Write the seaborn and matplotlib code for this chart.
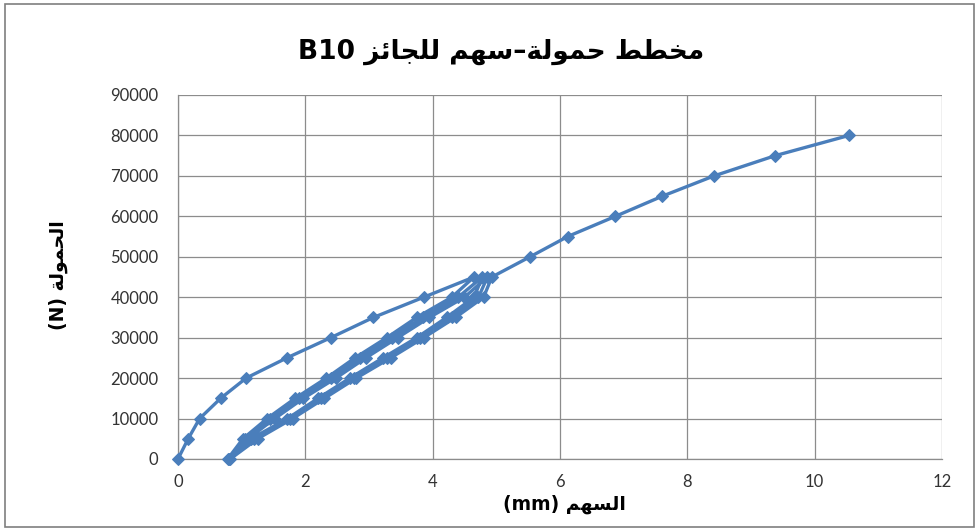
import numpy as np
import pandas as pd
import matplotlib
matplotlib.use("Agg")
import matplotlib.pyplot as plt
import seaborn as sns
from matplotlib.patches import Rectangle

# ---- data (deflection mm, load N) in test order ----
load_initial = [0, 5000, 10000, 15000, 20000, 25000, 30000, 35000, 40000, 45000]
defl_initial = [0, 0.16, 0.34, 0.67, 1.07, 1.71, 2.40, 3.07, 3.86, 4.65]

load_unload1 = [40000, 35000, 30000, 25000, 20000, 15000, 10000, 5000, 0]
defl_unload1 = [4.30, 3.75, 3.28, 2.78, 2.33, 1.84, 1.40, 1.02, 0.78]
load_reload1 = [5000, 10000, 15000, 20000, 25000, 30000, 35000, 40000, 45000]
defl_reload1 = [1.15, 1.72, 2.20, 2.70, 3.22, 3.75, 4.22, 4.65, 4.78]

load_unload2 = [40000, 35000, 30000, 25000, 20000, 15000, 10000, 5000, 0]
defl_unload2 = [4.40, 3.85, 3.36, 2.86, 2.40, 1.90, 1.45, 1.06, 0.80]
load_reload2 = [5000, 10000, 15000, 20000, 25000, 30000, 35000, 40000, 45000]
defl_reload2 = [1.20, 1.76, 2.25, 2.76, 3.28, 3.80, 4.30, 4.72, 4.86]

load_unload3 = [40000, 35000, 30000, 25000, 20000, 15000, 10000, 5000, 0]
defl_unload3 = [4.50, 3.95, 3.45, 2.95, 2.48, 1.97, 1.52, 1.10, 0.82]
load_reload3 = [5000, 10000, 15000, 20000, 25000, 30000, 35000, 40000, 45000]
defl_reload3 = [1.25, 1.80, 2.30, 2.80, 3.34, 3.86, 4.36, 4.80, 4.93]

load_final = [50000, 55000, 60000, 65000, 70000, 75000, 80000]
defl_final = [5.53, 6.12, 6.87, 7.61, 8.42, 9.38, 10.54]

x_ticks = [0, 2, 4, 6, 8, 10, 12]
y_ticks = [0, 10000, 20000, 30000, 40000, 50000, 60000, 70000, 80000, 90000]

title_ar = "مخطط حمولة–سهم للجائز"
title_code = "B10"
xlabel_ar = "السهم"
ylabel_ar = "الحمولة"

# ---- minimal Arabic shaping (visual order for matplotlib) ----
FORMS = {
    'ا': ('\uFE8D', '\uFE8E', None, None),
    'ل': ('\uFEDD', '\uFEDE', '\uFEDF', '\uFEE0'),
    'ح': ('\uFEA1', '\uFEA2', '\uFEA3', '\uFEA4'),
    'م': ('\uFEE1', '\uFEE2', '\uFEE3', '\uFEE4'),
    'و': ('\uFEED', '\uFEEE', None, None),
    'ة': ('\uFE93', '\uFE94', None, None),
    'خ': ('\uFEA5', '\uFEA6', '\uFEA7', '\uFEA8'),
    'ط': ('\uFEC1', '\uFEC2', '\uFEC3', '\uFEC4'),
    'س': ('\uFEB1', '\uFEB2', '\uFEB3', '\uFEB4'),
    'ه': ('\uFEE9', '\uFEEA', '\uFEEB', '\uFEEC'),
    'ج': ('\uFE9D', '\uFE9E', '\uFE9F', '\uFEA0'),
    'ئ': ('\uFE89', '\uFE8A', '\uFE8B', '\uFE8C'),
    'ز': ('\uFEAF', '\uFEB0', None, None),
}


def shape(s):
    out = []
    n = len(s)
    for i, ch in enumerate(s):
        if ch not in FORMS:
            out.append(ch)
            continue
        prev = s[i - 1] if i > 0 else None
        nxt = s[i + 1] if i < n - 1 else None
        join_prev = prev in FORMS and FORMS[prev][2] is not None
        join_next = nxt in FORMS and FORMS[ch][2] is not None
        iso, fin, ini, med = FORMS[ch]
        if join_prev and join_next:
            out.append(med)
        elif join_prev:
            out.append(fin)
        elif join_next:
            out.append(ini)
        else:
            out.append(iso)
    return "".join(out)[::-1]


# ---- build table ----
segments = [
    (defl_initial, load_initial),
    (defl_unload1, load_unload1), (defl_reload1, load_reload1),
    (defl_unload2, load_unload2), (defl_reload2, load_reload2),
    (defl_unload3, load_unload3), (defl_reload3, load_reload3),
    (defl_final, load_final),
]
xs, ys = [], []
for d, l in segments:
    xs += d
    ys += l
df = pd.DataFrame({"defl": xs, "load": ys, "order": np.arange(len(xs))})

sns.set_style("white")
plt.rcParams['font.family'] = ['Lato', 'DejaVu Sans']

fig = plt.figure(figsize=(9.79, 5.31), dpi=100)
ax = fig.add_axes([0.1818, 0.1356, 0.7804, 0.6855])

color = "#4A7EBB"
sns.lineplot(data=df, x="defl", y="load", sort=False, estimator=None,
             color=color, linewidth=2.4, marker="D", markersize=6,
             markeredgecolor=color, ax=ax, clip_on=False, zorder=3)

ax.set_xlim(0, 12)
ax.set_ylim(0, 90000)
ax.set_xticks(x_ticks)
ax.set_yticks(y_ticks)
ax.set_xticklabels([str(t) for t in x_ticks])
ax.set_yticklabels([str(t) for t in y_ticks])
ax.grid(True, color="#8c8c8c", linewidth=0.9)
ax.set_axisbelow(True)
for side in ["top", "right"]:
    ax.spines[side].set_visible(False)
for side in ["left", "bottom"]:
    ax.spines[side].set_color("#8c8c8c")
    ax.spines[side].set_linewidth(0.9)
ax.tick_params(axis="both", labelsize=12, colors="#333333", length=4,
               width=0.9, direction="out")
ax.tick_params(axis="both", color="#8c8c8c")
ax.tick_params(axis="x", pad=7)
ax.tick_params(axis="y", pad=10)
ax.set_xlabel("")
ax.set_ylabel("")

fig.text(0.512, 0.903, title_code + " " + shape(title_ar), ha="center", va="center",
         fontsize=19, fontweight="bold", color="black", family=["DejaVu Sans"])
fig.text(0.577, 0.050, "(mm) " + shape(xlabel_ar), ha="center", va="center",
         fontsize=13.5, fontweight="bold", color="black", family=["DejaVu Sans"])
fig.text(0.060, 0.482, "(N) " + shape(ylabel_ar), ha="center", va="center",
         rotation=90, fontsize=13.5, fontweight="bold", color="black",
         family=["DejaVu Sans"])

fig.patches.append(Rectangle((0.005, 0.008), 0.99, 0.984, transform=fig.transFigure,
                             fill=False, edgecolor="#7f7f7f", linewidth=1.2))

fig.savefig("out.png", dpi=100)
